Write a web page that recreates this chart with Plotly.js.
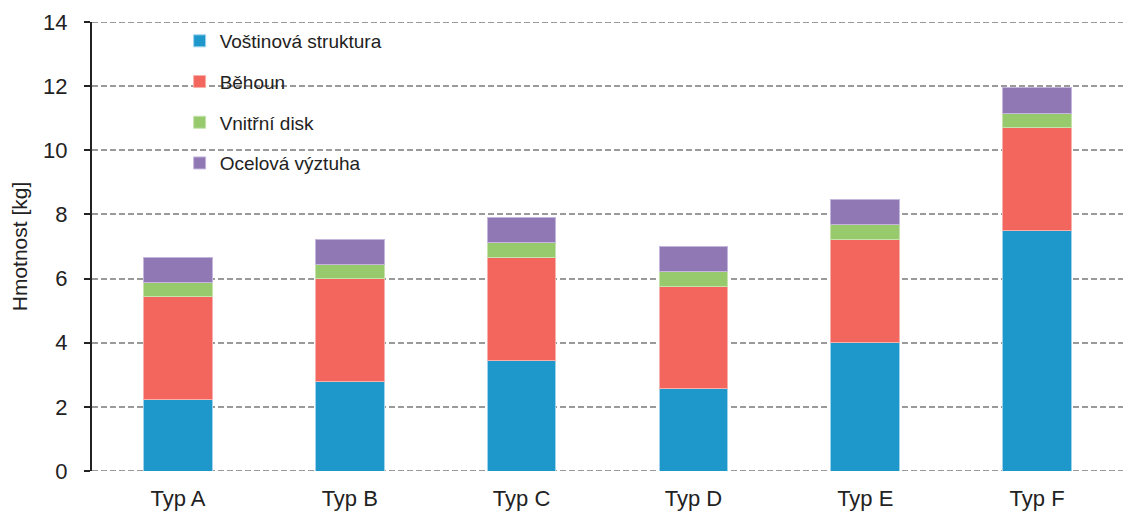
<!DOCTYPE html>
<html>
<head>
<meta charset="utf-8">
<script src="https://cdn.plot.ly/plotly-3.0.1.min.js"></script>
<style>html,body{margin:0;padding:0;background:#fff;}#chart{width:1125px;height:520px;}</style>
</head>
<body>
<div id="chart"></div>
<script>
const categories = ["Typ A", "Typ B", "Typ C", "Typ D", "Typ E", "Typ F"];
const seriesNames = ["Voštinová struktura", "Běhoun", "Vnitřní disk", "Ocelová výztuha"];
const vostinova = [2.22, 2.78, 3.46, 2.56, 4.02, 7.49];
const behoun = [3.21, 3.21, 3.20, 3.20, 3.20, 3.21];
const vnitrniDisk = [0.45, 0.46, 0.46, 0.47, 0.47, 0.46];
const ocelova = [0.78, 0.77, 0.79, 0.78, 0.78, 0.79];
const yTicks = [0, 2, 4, 6, 8, 10, 12, 14];
const yMin = 0, yMax = 14;

const colors = ["#1E98CB", "#F2665E", "#97C96D", "#9078B4"];
const outline = ["#9fd3ec", "#f7b0ab", "#c6e3ae", "#c4b6dc"];
const values = [vostinova, behoun, vnitrniDisk, ocelova];

const traces = values.map((v, i) => ({
  type: "bar",
  x: categories,
  y: v,
  name: seriesNames[i],
  legendgroup: "g" + i,
  marker: {color: colors[i], line: {color: outline[i], width: 1}},
  hoverinfo: "x+y+name"
}));

const gridStyle = {color: "#9a9a9a", width: 2, dash: "6px,3px"};
const edgeLines = [yMin, yMax].map(v => ({
  type: "line", xref: "paper", yref: "y", x0: 0, x1: 1, y0: v, y1: v,
  line: gridStyle, layer: "below"
}));

const layout = {
  width: 1125,
  height: 520,
  margin: {l: 92, r: 2, t: 22, b: 49},
  paper_bgcolor: "#fff",
  plot_bgcolor: "#fff",
  barmode: "stack",
  bargap: 0.6,
  font: {family: "Liberation Sans, Arial, sans-serif", color: "#222"},
  showlegend: true,
  legend: {
    x: 0.085, xanchor: "left",
    y: 1.0, yanchor: "top",
    traceorder: "grouped",
    tracegroupgap: 13,
    font: {size: 19, color: "#222"},
    bgcolor: "rgba(0,0,0,0)"
  },
  shapes: edgeLines,
  xaxis: {
    type: "category",
    showline: false,
    showgrid: false,
    ticks: "",
    ticklabelstandoff: 12,
    tickfont: {size: 22, color: "#222"},
    fixedrange: true
  },
  yaxis: {
    range: [yMin, yMax],
    tickvals: yTicks,
    ticktext: yTicks.map(String),
    showline: true,
    linecolor: "#222",
    linewidth: 2,
    ticks: "outside",
    ticklen: 6,
    tickwidth: 2,
    tickcolor: "#222",
    ticklabelstandoff: 12,
    tickfont: {size: 22, color: "#222"},
    showgrid: true,
    gridcolor: gridStyle.color,
    gridwidth: 2,
    griddash: gridStyle.dash,
    zeroline: false,
    title: {text: "Hmotnost [kg]", font: {size: 21, color: "#222"}, standoff: 10},
    fixedrange: true
  }
};

Plotly.newPlot("chart", traces, layout, {displayModeBar: false, staticPlot: true});
</script>
</body>
</html>
